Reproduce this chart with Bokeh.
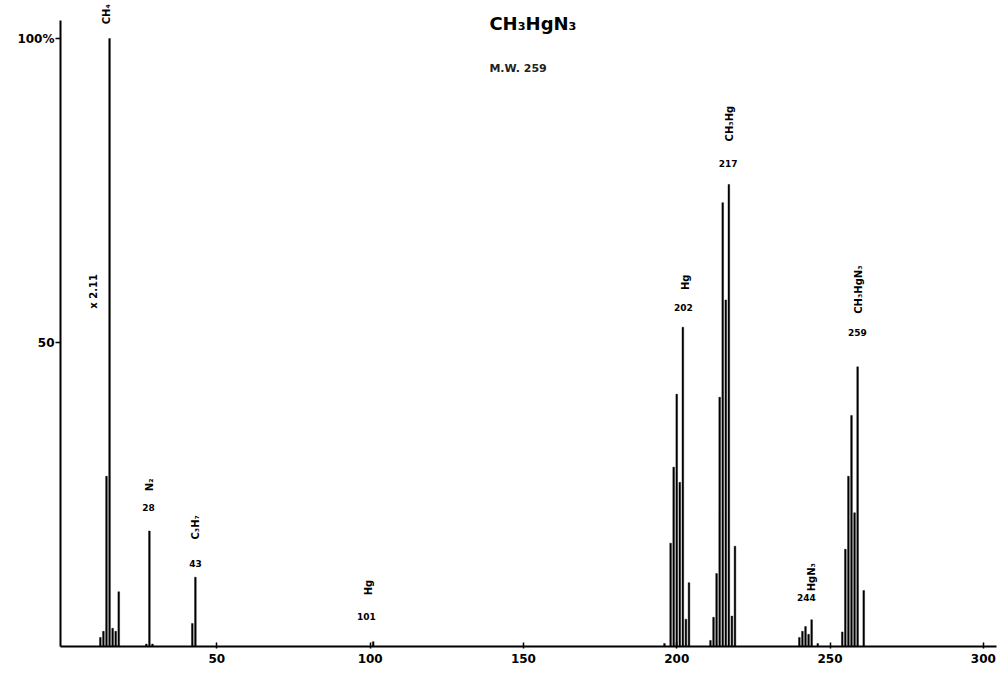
from bokeh.plotting import figure
from bokeh.models import ColumnDataSource, FixedTicker, LabelSet, Label, Range1d
from bokeh.core.properties import value
from bokeh.embed import file_html
from bokeh.resources import INLINE

# ---- data: m/z and relative intensity (%) ----
low_mz = [12, 13, 14, 15, 16, 17, 18]
low_int = [1.5, 2.5, 28, 100, 3, 2.5, 9]

mid_mz = [27, 28, 29, 42, 43, 101]
mid_int = [0.4, 19, 0.4, 3.8, 11.4, 0.8]

hg_mz = [196, 198, 199, 200, 201, 202, 203, 204]
hg_int = [0.5, 17, 29.5, 41.5, 27, 52.5, 4.5, 10.5]

ch3hg_mz = [211, 212, 213, 214, 215, 216, 217, 218, 219]
ch3hg_int = [1, 4.8, 12, 41, 73, 57, 76, 5, 16.5]

hgn3_mz = [240, 241, 242, 243, 244, 246]
hgn3_int = [1.5, 2.5, 3.3, 2.0, 4.4, 0.5]

ch3hgn3_mz = [254, 255, 256, 257, 258, 259, 261]
ch3hgn3_int = [2.4, 16, 28, 38, 22, 46, 9.2]

# ---- peak annotations ----
name_text = ["CH\u2084", "x 2.11", "N\u2082", "C\u2083H\u2087", "Hg", "Hg",
             "CH\u2083Hg", "HgN\u2083", "CH\u2083HgN\u2083"]
name_mz = [14.0, 9.75, 28.0, 43.0, 99.4, 202.8, 217.2, 244.0, 259.3]
name_level = [104.0, 58.4, 26.6, 19.6, 9.7, 59.9, 86.0, 11.4, 58.7]

num_text = ["28", "43", "101", "202", "217", "244", "259"]
num_mz = [27.7, 43.0, 98.8, 202.2, 216.8, 242.3, 258.9]
num_level = [22.9, 13.7, 5.0, 55.8, 79.4, 8.1, 51.7]

x_ticks = [50, 100, 150, 200, 250, 300]
y_ticks = [50, 100]
y_tick_labels = {50: "50", 100: "100%"}
y_axis_extent = (0, 102.96)

title_text = "CH\u2083HgN\u2083"
mw_text = "M.W. 259"

# ---- figure ----
p = figure(width=1000, height=669, output_backend="svg", toolbar_location=None,
           x_range=Range1d(-1.0, 304.3), y_range=Range1d(0, 106.25),
           min_border_left=60, min_border_right=4, min_border_top=0,
           min_border_bottom=23)
p.background_fill_color = "white"
p.border_fill_color = "white"
p.outline_line_color = None
p.grid.visible = False

mz = low_mz + mid_mz + hg_mz + ch3hg_mz + hgn3_mz + ch3hgn3_mz
inten = low_int + mid_int + hg_int + ch3hg_int + hgn3_int + ch3hgn3_int
src = ColumnDataSource(dict(mz=mz, inten=inten))
p.vbar(x="mz", top="inten", width=0.55, bottom=0, source=src,
       fill_color="black", line_color="black", line_width=0.4)

# axes
for ax in (p.xaxis[0], p.yaxis[0]):
    ax.axis_line_width = 2
    ax.axis_line_color = "black"
    ax.major_tick_line_color = "black"
    ax.major_tick_line_width = 1.5
    ax.minor_tick_line_color = None
    ax.major_label_text_font = "DejaVu Sans"
    ax.major_label_text_font_style = "bold"
    ax.major_label_text_color = "black"

p.xaxis.ticker = FixedTicker(ticks=x_ticks)
p.xaxis.major_tick_in = 4
p.xaxis.major_tick_out = 2
p.xaxis.major_label_standoff = 5
p.xaxis.major_label_text_font_size = "12px"

p.yaxis.ticker = FixedTicker(ticks=y_ticks)
p.yaxis.bounds = y_axis_extent
p.yaxis.major_label_overrides = y_tick_labels
p.yaxis.major_tick_in = 0
p.yaxis.major_tick_out = 5
p.yaxis.major_label_standoff = 1
p.yaxis.major_label_text_font_size = "12px"

# peak labels
name_src = ColumnDataSource(dict(x=name_mz, y=name_level, text=name_text,
                                 angle=[1.5708] * len(name_text)))
p.add_layout(LabelSet(x="x", y="y", text="text", angle="angle", source=name_src,
                      text_font=value("DejaVu Sans"), text_font_style="bold",
                      text_font_size="10px", text_align="center",
                      text_baseline="middle", text_color="black"))

num_src = ColumnDataSource(dict(x=num_mz, y=num_level, text=num_text))
p.add_layout(LabelSet(x="x", y="y", text="text", source=num_src,
                      text_font=value("DejaVu Sans"), text_font_style="bold",
                      text_font_size="9px", text_align="center",
                      text_baseline="middle", text_color="black"))

# title block
p.add_layout(Label(x=138.9, y=102.4, text=title_text, text_font="DejaVu Sans",
                   text_font_style="bold", text_font_size="18px",
                   text_align="left", text_baseline="middle", text_color="black"))
p.add_layout(Label(x=138.9, y=95.0, text=mw_text, text_font="DejaVu Sans",
                   text_font_style="bold", text_font_size="11px",
                   text_align="left", text_baseline="middle", text_color="#222222"))

open("out.html", "w").write(file_html(p, INLINE))
